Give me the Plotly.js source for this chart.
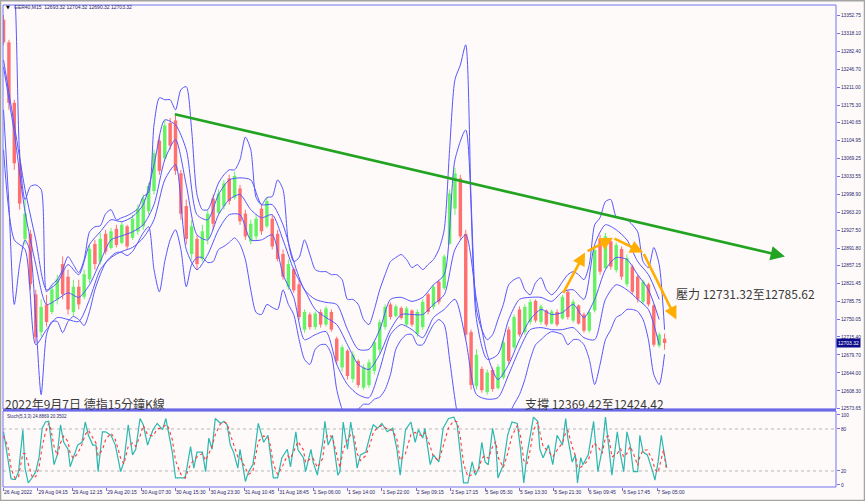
<!DOCTYPE html>
<html><head><meta charset="utf-8">
<script src="https://cdn.plot.ly/plotly-3.0.1.min.js"></script>
<style>html,body{margin:0;padding:0;background:#fefaf9;}#chart{width:865px;height:501px;}</style>
</head><body><div id="chart"></div>
<script>
// ---- DATA (each candle groups 5 M15 bars) ----
const candleOpen = [13345,13300,13180,13060,12910,12920,12800,12725,12780,12765,12790,12860,12835,12765,12815,12795,12830,12900,12865,12920,12892,12930,12902,12935,12912,12925,12935,12965,13005,13105,13070,13140,13145,13040,12975,12880,12910,12870,12910,12990,12962,12975,13030,12992,13010,12960,12905,12915,12970,12935,12950,12920,12880,12815,12850,12820,12730,12760,12735,12765,12740,12765,12712,12655,12688,12632,12668,12615,12620,12648,12690,12735,12780,12757,12773,12740,12768,12722,12735,12800,12775,12825,12812,12900,12970,13030,12920,12725,12618,12652,12606,12650,12614,12635,12730,12695,12770,12725,12745,12787,12745,12768,12742,12765,12752,12805,12748,12778,12760,12728,12768,12910,12852,12905,12848,12890,12820,12855,12835,12785,12820,12778,12698,12712];
const candleHigh = [13354,13305,13186,13087,12988,12928,12809,12790,12799,12819,12839,12875,12849,12829,12829,12849,12899,12908,12922,12928,12932,12938,12944,12938,12958,12978,12998,13021,13087,13116,13146,13150,13156,13047,12988,12948,12918,12938,12968,12998,13008,13027,13037,13043,13017,12968,12948,12958,12978,12992,12958,12928,12889,12869,12853,12829,12770,12764,12766,12770,12776,12770,12716,12700,12691,12687,12671,12661,12671,12710,12750,12780,12784,12780,12776,12776,12770,12770,12790,12803,12819,12829,12879,13008,13051,13037,12928,12730,12691,12657,12651,12655,12661,12710,12736,12760,12776,12780,12790,12790,12780,12770,12770,12770,12799,12809,12790,12780,12764,12770,12895,12918,12922,12908,12903,12895,12879,12859,12839,12829,12823,12780,12724,12722];
const candleLow = [13295,13166,13047,12968,12899,12809,12704,12716,12736,12760,12780,12790,12760,12756,12770,12790,12823,12849,12859,12879,12889,12893,12899,12889,12908,12918,12928,12958,12998,13037,13067,13087,13037,12948,12899,12869,12849,12865,12899,12928,12958,12968,12978,12988,12938,12908,12899,12908,12918,12932,12889,12865,12829,12809,12803,12750,12724,12730,12730,12734,12736,12726,12661,12647,12631,12625,12615,12611,12615,12641,12681,12730,12750,12754,12750,12736,12736,12716,12730,12760,12770,12780,12809,12899,12958,12908,12710,12611,12611,12605,12601,12607,12611,12631,12661,12691,12716,12720,12740,12744,12740,12736,12740,12736,12750,12750,12744,12740,12724,12724,12764,12839,12849,12849,12843,12829,12815,12799,12784,12780,12776,12696,12694,12690];
const candleClose = [13300,13180,13060,12980,12960,12820,12715,12775,12745,12810,12830,12800,12770,12815,12780,12840,12890,12860,12910,12885,12925,12898,12938,12895,12950,12970,12990,13015,13080,13045,13135,13095,13045,12960,12910,12935,12860,12925,12960,12940,13000,13020,12985,13035,12945,12915,12940,12950,12925,12985,12895,12870,12835,12860,12808,12755,12765,12735,12762,12740,12772,12730,12668,12695,12638,12680,12620,12655,12665,12705,12745,12775,12755,12776,12753,12772,12740,12765,12785,12765,12815,12785,12875,13000,13040,12915,12720,12620,12680,12610,12645,12612,12656,12705,12668,12755,12720,12775,12785,12748,12776,12740,12766,12740,12795,12755,12785,12742,12728,12765,12888,12845,12915,12855,12898,12835,12872,12805,12790,12825,12780,12700,12720,12703.32];

// Bands: outer upper / lower (one value per candle); middle, inner upper / lower (every 2nd candle)
const bandUpper = [13530,13470,13414,13077,12988,13014,13017,13008,12805,12819,12829,12849,12875,12859,12843,12869,12924,12934,12936,12960,12968,12948,12952,12956,12962,12970,12994,13002,13136,13190,13186,13186,13166,13206,13212,13126,12998,12968,12968,12992,13021,13037,13047,13047,13067,13112,13087,12992,12978,12992,12994,13027,13008,12903,12865,12873,12908,12879,12849,12845,12845,12839,12839,12829,12790,12790,12780,12750,12740,12770,12809,12839,12865,12873,12879,12869,12853,12859,12849,12859,12869,12889,12928,13087,13226,13255,13295,12988,12770,12730,12710,12720,12750,12780,12819,12829,12833,12809,12799,12823,12833,12809,12799,12809,12825,12839,12845,12839,12829,12859,12938,12952,12984,12988,12954,12952,12948,12938,12924,12865,12853,12893,12859,12730];
const bandLower = [13166,12978,12780,12859,12908,12883,12750,12601,12720,12746,12746,12724,12746,12756,12750,12738,12766,12809,12839,12863,12875,12883,12883,12877,12885,12903,12922,12934,12849,12805,12865,12908,12928,12889,12815,12859,12873,12873,12863,12865,12889,12895,12903,12912,12899,12869,12809,12764,12760,12780,12774,12770,12809,12780,12760,12710,12671,12661,12691,12700,12700,12681,12611,12572,12552,12562,12572,12582,12582,12592,12596,12611,12641,12691,12710,12720,12720,12700,12700,12720,12740,12750,12740,12671,12592,12532,12512,12532,12542,12542,12532,12536,12552,12552,12562,12582,12601,12631,12671,12700,12710,12720,12726,12724,12720,12700,12710,12710,12700,12671,12621,12661,12710,12730,12754,12760,12770,12770,12766,12750,12710,12641,12621,12681];
const bandMiddle = [13251,13120,12964,12859,12780,12790,12803,12794,12819,12865,12908,12916,12924,12938,12978,13067,13107,13017,12918,12908,12958,12988,12998,12968,12952,12958,12908,12849,12809,12770,12754,12740,12700,12661,12651,12681,12730,12760,12760,12760,12780,12799,12889,12918,12790,12681,12631,12661,12710,12750,12770,12760,12764,12780,12754,12790,12849,12873,12869,12839,12809,12750];
const innerUpper = [13265,13136,13008,12908,12809,12823,12859,12839,12899,12924,12948,12944,12954,12978,13057,13146,13136,13087,12958,12948,12998,13027,13031,13027,12978,12978,12938,12865,12809,12790,12784,12780,12730,12691,12691,12730,12790,12794,12786,12794,12819,12839,13067,13126,12750,12671,12681,12750,12790,12794,12794,12786,12805,12809,12790,12899,12938,12928,12908,12865,12839,12790];
const innerLower = [13087,12908,12889,12700,12730,12754,12750,12746,12790,12849,12873,12885,12893,12912,12948,13027,13057,12889,12849,12879,12928,12958,12958,12908,12908,12918,12839,12794,12710,12720,12726,12661,12621,12601,12595,12651,12720,12740,12730,12714,12754,12770,12790,12710,12601,12592,12595,12641,12691,12730,12734,12730,12730,12734,12714,12710,12790,12819,12809,12790,12770,12700];

// Stochastic (5,3,3): bar index, %K, %D
const stochBar = [0,4,7,9,11,14,18,20,23,27,30,33,36,39,42,44,47,50,53,56,60,62,65,69,73,76,79,83,86,88,92,95,100,104,109,112,116,120,123,127,130,134,139,143,148,151,153,157,160,165,169,174,177,180,185,188,191,194,197,202,205,208,211,214,218,220,225,228,232,234,237,242,246,248,251,255,259,264,267,272,274,279,281,286,288,292,297,299,302,306,311,313,316,320,323,326,329,332,337,341,344,348,352,357,362,366,369,374,379,383,386,390,392,397,400,405,409,414,419,422,425,428,432,436,439,442,445,448,451,455,458,460,465,469,473,478,481,484,487,490,493,497,499,502,507,511,515,520,523,525,529,532,534,537,539,544,549,553,557,560,563,566,571,574,577,580,583,586,590,592,595,599,604,606,609,612,614,617];
const stochK = [76,39,9,8,8,19,79,24,3,11,19,39,81,90,91,67,29,43,86,61,51,26,39,57,61,90,71,57,57,19,76,76,71,57,19,33,86,43,51,95,86,57,79,88,79,95,79,47,10,10,10,55,24,47,47,19,67,51,95,88,91,86,57,47,24,51,5,19,29,51,88,61,71,47,10,10,39,51,26,76,50,39,19,51,33,14,61,91,57,71,14,19,90,51,90,61,24,43,47,71,86,81,88,76,81,51,14,79,90,61,79,67,81,29,43,33,81,95,97,86,43,3,3,33,14,24,61,33,29,81,57,10,29,71,90,88,51,3,43,71,97,91,51,39,57,29,71,57,95,67,33,43,3,39,29,43,91,19,51,97,51,14,76,43,19,76,57,19,19,71,47,43,19,7,33,71,51,24.89];
const stochD = [70,55,25,15,9,12,45,45,30,10,12,25,55,75,88,80,55,42,60,70,62,45,38,45,58,72,78,68,60,42,50,65,74,65,38,30,55,60,55,70,85,72,70,80,82,86,84,65,35,15,10,30,35,40,45,35,45,55,72,88,90,88,72,58,40,40,25,15,20,35,62,70,68,58,30,15,25,42,38,55,62,50,32,38,38,25,38,65,72,68,40,25,50,65,72,70,45,35,42,58,75,82,85,80,78,65,35,45,72,75,72,70,75,55,40,35,55,82,92,90,68,30,12,15,20,22,38,42,38,55,62,40,25,45,70,85,70,35,30,50,78,90,75,55,48,40,50,60,75,78,55,42,25,25,28,35,60,55,45,68,70,40,45,52,40,45,55,45,28,40,50,50,35,22,18,40,50,20.35];

// Axis labels
const timeLabels = ['26 Aug 2022','29 Aug 04:15','29 Aug 12:15','29 Aug 20:15','30 Aug 07:30','30 Aug 15:30','30 Aug 23:30','31 Aug 10:45','31 Aug 18:45','1 Sep 06:00','1 Sep 14:00','1 Sep 22:00','2 Sep 09:15','2 Sep 17:15','5 Sep 05:30','5 Sep 13:30','5 Sep 21:30','6 Sep 09:45','6 Sep 17:45','7 Sep 05:00'];
const priceTicks = [13352.75,13318.10,13282.40,13246.70,13211.00,13175.30,13140.65,13104.95,13069.25,13033.55,12998.90,12963.20,12927.50,12891.80,12857.15,12821.45,12785.75,12750.05,12715.40,12679.70,12644.00,12608.30,12573.65];
const stochTicks = [0,20,80,100];
const lastPrice = 12703.32;

// ---- drawing ----
const BARS_PER_CANDLE = 5, BARS_PER_LABEL = 32;
const UP = '#66f266', DN = '#ff7070', BAND = '#5656ff', FRAME = '#7272ee';
const candleX = candleOpen.map((_, i) => i * BARS_PER_CANDLE);
const halfX = bandMiddle.map((_, i) => i * 2 * BARS_PER_CANDLE);
const labelX = timeLabels.map((_, i) => i * BARS_PER_LABEL);

function bodies(up) {
  const x = [], base = [], h = [];
  candleOpen.forEach((o, i) => {
    const c = candleClose[i];
    if ((c >= o) === up) { x.push(candleX[i]); base.push(Math.min(o, c)); h.push(Math.max(Math.abs(c - o), 1.5)); }
  });
  return {type: 'bar', x: x, y: h, base: base, width: 3.2, marker: {color: up ? UP : DN, line: {width: 0}},
          xaxis: 'x', yaxis: 'y', hoverinfo: 'skip', showlegend: false};
}
function wicks(up) {
  const x = [], y = [];
  candleOpen.forEach((o, i) => {
    const c = candleClose[i];
    if ((c >= o) === up) { x.push(candleX[i], candleX[i], null); y.push(candleLow[i], candleHigh[i], null); }
  });
  return {type: 'scatter', mode: 'lines', x: x, y: y, line: {color: up ? UP : DN, width: 1},
          xaxis: 'x', yaxis: 'y', hoverinfo: 'skip', showlegend: false};
}
function band(x, y) {
  return {type: 'scatter', mode: 'lines', x: x, y: y, line: {color: BAND, width: 1, shape: 'spline', smoothing: 0.7},
          xaxis: 'x', yaxis: 'y', hoverinfo: 'skip', showlegend: false};
}

const traces = [
  wicks(true), wicks(false), bodies(true), bodies(false),
  band(candleX, bandUpper), band(candleX, bandLower), band(halfX, bandMiddle),
  band(halfX, innerUpper), band(halfX, innerLower),
  {type: 'scatter', mode: 'lines', x: stochBar, y: stochK, line: {color: '#2ab8b0', width: 1.2},
   xaxis: 'x', yaxis: 'y2', hoverinfo: 'skip', showlegend: false},
  {type: 'scatter', mode: 'lines', x: stochBar, y: stochD, line: {color: '#ff3a3a', width: 1.1, dash: 'dot'},
   xaxis: 'x', yaxis: 'y2', hoverinfo: 'skip', showlegend: false}
];

const PW = 833, PH = 482, PT = 5, PB = 487;
const py = (pix) => (PB - pix) / PH;   // page pixel -> paper y
const px = (pix) => (pix - 3) / PW;    // page pixel -> paper x
const mainBottom = py(409), stochTop = py(411);

const cjk = {family: 'Noto Sans CJK TC, Noto Sans CJK SC, sans-serif', size: 12, color: '#3a3a3a'};
const small = {family: 'Liberation Sans, Arial, sans-serif', size: 5, color: '#1e1e6e'};

// drawn annotations (positions in price / bar units)
const trendStart = {x: 158, y: 13158}, trendEnd = {x: 727, y: 12875};
const orangePath = [{x: 520, y: 12800}, {x: 541, y: 12883}, {x: 542, y: 12884}, {x: 567, y: 12912}, {x: 567, y: 12912}, {x: 595, y: 12883}, {x: 595, y: 12883}, {x: 626, y: 12750}];

const annotations = [
  {xref: 'paper', yref: 'paper', x: px(4), y: py(7.5), xanchor: 'left', yanchor: 'middle', showarrow: false,
   text: '▼', font: {family: 'DejaVu Sans', size: 5, color: '#000'}},
  {xref: 'paper', yref: 'paper', x: px(12), y: py(7.5), xanchor: 'left', yanchor: 'middle', showarrow: false,
   text: 'GER40,M15  12693.32 12704.32 12690.32 12703.32', font: small},
  {xref: 'paper', yref: 'paper', x: px(5), y: py(416.5), xanchor: 'left', yanchor: 'middle', showarrow: false,
   text: 'Stoch(5,3,3) 24.8869 20.3502', font: Object.assign({}, small, {size: 4.5})},
  {xref: 'paper', yref: 'paper', x: px(3), y: py(403), xanchor: 'left', yanchor: 'middle', showarrow: false,
   text: '2022年9月7日 德指15分鐘K線', font: cjk},
  {xref: 'paper', yref: 'paper', x: px(523), y: py(403), xanchor: 'left', yanchor: 'middle', showarrow: false,
   text: '支撐 12369.42至12424.42', font: cjk},
  {xref: 'paper', yref: 'paper', x: px(674), y: py(293), xanchor: 'left', yanchor: 'middle', showarrow: false,
   text: '壓力 12731.32至12785.62', font: cjk},
  {xref: 'paper', yref: 'y', x: 1, y: lastPrice, xanchor: 'left', yanchor: 'middle', showarrow: false,
   text: '12703.32', bgcolor: '#0c0c8c', borderpad: 1, font: Object.assign({}, small, {color: '#ffffff', size: 5})},
  {xref: 'x', yref: 'y', axref: 'x', ayref: 'y', x: trendEnd.x, y: trendEnd.y, ax: trendStart.x, ay: trendStart.y,
   text: '', showarrow: true, arrowhead: 2, arrowsize: 1.1, arrowwidth: 2.6, arrowcolor: '#22a322', standoff: 0}
];
for (let k = 0; k < orangePath.length; k += 2) {
  annotations.push({xref: 'x', yref: 'y', axref: 'x', ayref: 'y', x: orangePath[k + 1].x, y: orangePath[k + 1].y,
    ax: orangePath[k].x, ay: orangePath[k].y, text: '', showarrow: true, arrowhead: 2, arrowsize: 1,
    arrowwidth: 2.6, arrowcolor: '#ffad00', standoff: 0});
}

const shapes = [
  {type: 'rect', xref: 'paper', yref: 'paper', x0: px(0.5), x1: px(864.5), y0: py(500.5), y1: py(0.8),
   line: {color: '#a4a4a4', width: 1.5}, layer: 'below'},
  {type: 'rect', xref: 'paper', yref: 'paper', x0: 0, x1: 1, y0: mainBottom, y1: 1, line: {color: FRAME, width: 1}},
  {type: 'rect', xref: 'paper', yref: 'paper', x0: 0, x1: 1, y0: 0, y1: stochTop, line: {color: FRAME, width: 1}},
  {type: 'line', xref: 'paper', yref: 'paper', x0: 0, x1: 1, y0: py(410), y1: py(410), line: {color: '#6a6ae6', width: 2.5}},
  {type: 'line', xref: 'paper', yref: 'y2', x0: 0, x1: 1, y0: 80, y1: 80, line: {color: '#b8b8b8', width: 1, dash: 'dot'}, layer: 'below'},
  {type: 'line', xref: 'paper', yref: 'y2', x0: 0, x1: 1, y0: 20, y1: 20, line: {color: '#b8b8b8', width: 1, dash: 'dot'}, layer: 'below'}
];

const layout = {
  width: 865, height: 501, margin: {l: 3, r: 29, t: PT, b: 14, pad: 0},
  paper_bgcolor: '#fefaf9', plot_bgcolor: '#fefaf9', showlegend: false, barmode: 'overlay',
  xaxis: {range: [-0.5, 774.5], anchor: 'y2', domain: [0, 1], tickmode: 'array', tickvals: labelX, ticktext: timeLabels,
          tickangle: 0, automargin: false,
          ticks: 'outside', ticklen: 3, tickcolor: FRAME, tickfont: small, ticklabelposition: 'outside right',
          showgrid: false, zeroline: false, showline: false, fixedrange: true},
  yaxis: {domain: [mainBottom, 1], range: [12572.5, 13374], side: 'right', tickmode: 'array', tickvals: priceTicks,
          ticktext: priceTicks.map(v => v.toFixed(2)), ticks: 'outside', ticklen: 3, tickcolor: FRAME, automargin: false,
          tickfont: Object.assign({}, small, {size: 4.8}), showgrid: false, zeroline: false, showline: false, fixedrange: true},
  yaxis2: {domain: [0, stochTop], range: [-2.9, 105.7], side: 'right', tickmode: 'array', tickvals: stochTicks,
           ticks: 'outside', ticklen: 3, tickcolor: FRAME, tickfont: Object.assign({}, small, {size: 4.8}), automargin: false,
           showgrid: false, zeroline: false, showline: false, fixedrange: true},
  annotations: annotations, shapes: shapes
};

Plotly.newPlot('chart', traces, layout, {staticPlot: true, displayModeBar: false});
</script></body></html>
